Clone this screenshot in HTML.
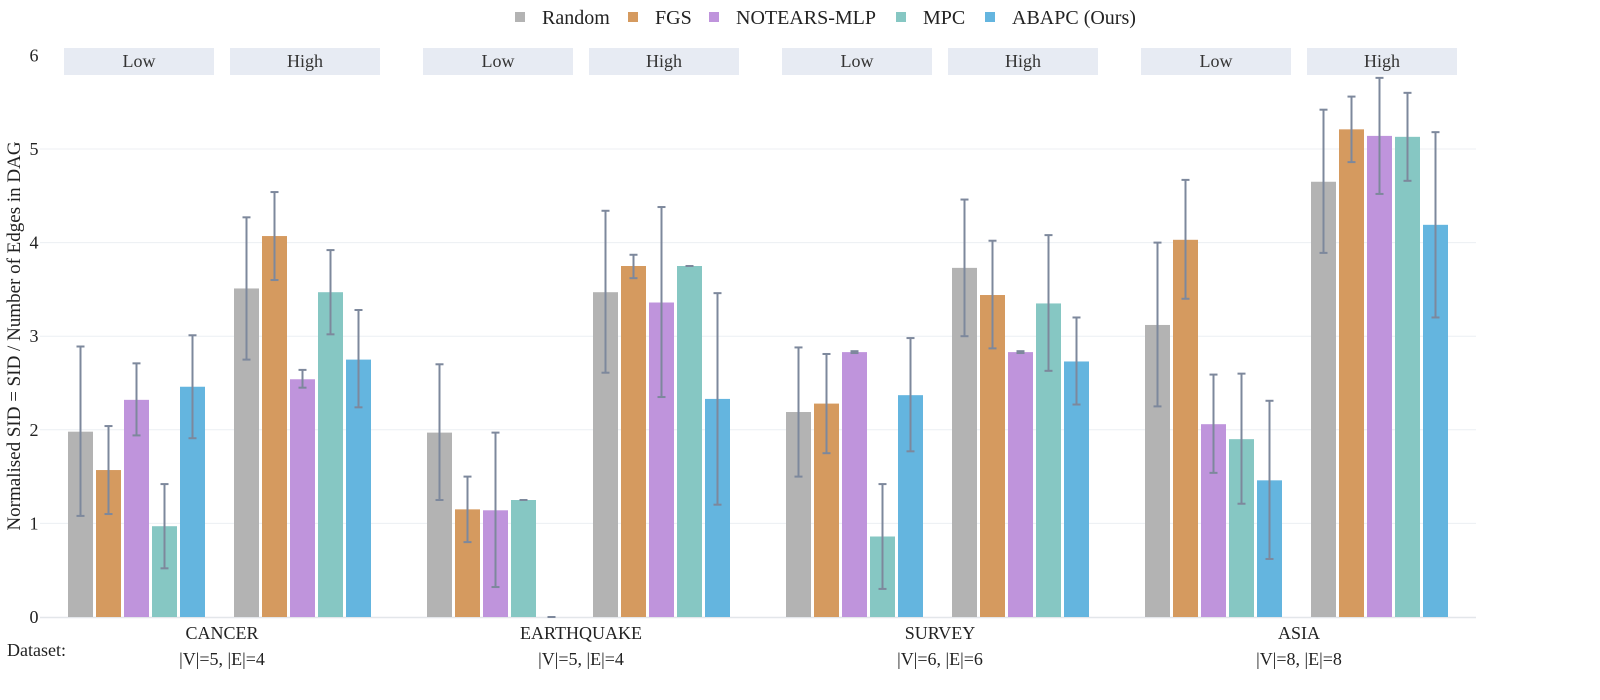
<!DOCTYPE html>
<html><head><meta charset="utf-8"><style>
body{margin:0;background:#fff;}
svg{display:block;font-family:"Liberation Serif",serif;}
</style></head><body>
<svg id="chart" width="1600" height="700"></svg>
<script>
const datasets=["CANCER","EARTHQUAKE","SURVEY","ASIA"];
const datasetInfo=["|V|=5, |E|=4","|V|=5, |E|=4","|V|=6, |E|=6","|V|=8, |E|=8"];
const levels=["Low","High"];
const methods=["Random","FGS","NOTEARS-MLP","MPC","ABAPC (Ours)"];
const colors=["#b3b3b3","#d59a5f","#bf94dc","#86c7c3","#64b5df"];
const yTicks=[0,1,2,3,4,5,6];
// values[dataset][level][method]
const values=[
 [[1.98,1.57,2.32,0.97,2.46],[3.51,4.07,2.54,3.47,2.75]],
 [[1.97,1.15,1.14,1.25,0],[3.47,3.75,3.36,3.75,2.33]],
 [[2.19,2.28,2.83,0.86,2.37],[3.73,3.44,2.83,3.35,2.73]],
 [[3.12,4.03,2.06,1.90,1.46],[4.65,5.21,5.14,5.13,4.19]]
];
const errLow=[
 [[1.08,1.10,1.94,0.52,1.91],[2.75,3.60,2.45,3.02,2.24]],
 [[1.25,0.80,0.32,1.25,0],[2.61,3.62,2.35,3.75,1.20]],
 [[1.50,1.75,2.82,0.30,1.77],[3.00,2.87,2.82,2.63,2.27]],
 [[2.25,3.40,1.54,1.21,0.62],[3.89,4.86,4.52,4.66,3.20]]
];
const errHigh=[
 [[2.89,2.04,2.71,1.42,3.01],[4.27,4.54,2.64,3.92,3.28]],
 [[2.70,1.50,1.97,1.25,0],[4.34,3.87,4.38,3.75,3.46]],
 [[2.88,2.81,2.84,1.42,2.98],[4.46,4.02,2.84,4.08,3.20]],
 [[4.00,4.67,2.59,2.60,2.31],[5.42,5.56,5.76,5.60,5.18]]
];
const svg=document.getElementById('chart');
const NS="http://www.w3.org/2000/svg";
function mk(tag,attrs,parent){const e=document.createElementNS(NS,tag);for(const k in attrs)e.setAttribute(k,attrs[k]);(parent||svg).appendChild(e);return e;}
const y0=617,unit=93.6;
const yScale=v=>y0-v*unit;
const panelX=(d,l)=>64+d*359+l*166;
const barX=(d,l,m)=>panelX(d,l)+4+m*28;
const bw=25;
yTicks.forEach(t=>{
 if(t>0&&t<6){const g=mk('line',{x1:40,x2:1476,y1:yScale(t),y2:yScale(t),stroke:'#eceff3','stroke-width':1});
 
 }
 const tx=mk('text',{x:34,y:yScale(t)+6,'font-size':18,'text-anchor':'middle',fill:'#222'});
 tx.textContent=t;
 
 
});
const ax=mk('line',{x1:40,x2:1476,y1:y0+0.5,y2:y0+0.5,stroke:'#e3e6ea','stroke-width':1.5});


const yt=mk('text',{transform:'translate(20,336) rotate(-90)','font-size':19,'text-anchor':'middle',fill:'#222'});
yt.textContent='Normalised SID = SID / Number of Edges in DAG';


datasets.forEach((ds,d)=>{
 levels.forEach((lv,l)=>{
  const px=panelX(d,l);
  const hb=mk('rect',{x:px,y:48,width:150,height:27,fill:'#e7ebf3'});
  
  
  const ht=mk('text',{x:px+75,y:67,'font-size':18,'text-anchor':'middle',fill:'#333'});
  ht.textContent=lv;
  
  
  methods.forEach((m,k)=>{
   const v=values[d][l][k];const x=barX(d,l,k);
   const r=mk('rect',{x:x,y:yScale(v),width:bw,height:v*unit,fill:colors[k]});
   
   
   const cx=x+bw/2,lo=yScale(errLow[d][l][k]),hi=yScale(errHigh[d][l][k]);
   const eg=mk('g',{stroke:'#7d889c','stroke-width':2});
   
   
   mk('line',{x1:cx,x2:cx,y1:lo,y2:hi},eg);
   mk('line',{x1:cx-4,x2:cx+4,y1:lo,y2:lo},eg);
   mk('line',{x1:cx-4,x2:cx+4,y1:hi,y2:hi},eg);
  });
 });
 const cx=panelX(d,0)+158;
 const t1=mk('text',{x:cx,y:639,'font-size':18,'text-anchor':'middle',fill:'#222'});
 t1.textContent=ds;
 
 
 const t2=mk('text',{x:cx,y:665,'font-size':18,'text-anchor':'middle',fill:'#222'});
 t2.textContent=datasetInfo[d];
 
 
});
const dl=mk('text',{x:7,y:656,'font-size':18,fill:'#222'});
dl.textContent='Dataset:';


const legX=[515,628,709,896,985];
methods.forEach((m,k)=>{
 const g=mk('g',{});
 
 
 mk('rect',{x:legX[k],y:12,width:10,height:10,fill:colors[k]},g);
 const t=mk('text',{x:legX[k]+27,y:24,'font-size':20,fill:'#222'},g);
 t.textContent=m;
});
</script>
</body></html>
